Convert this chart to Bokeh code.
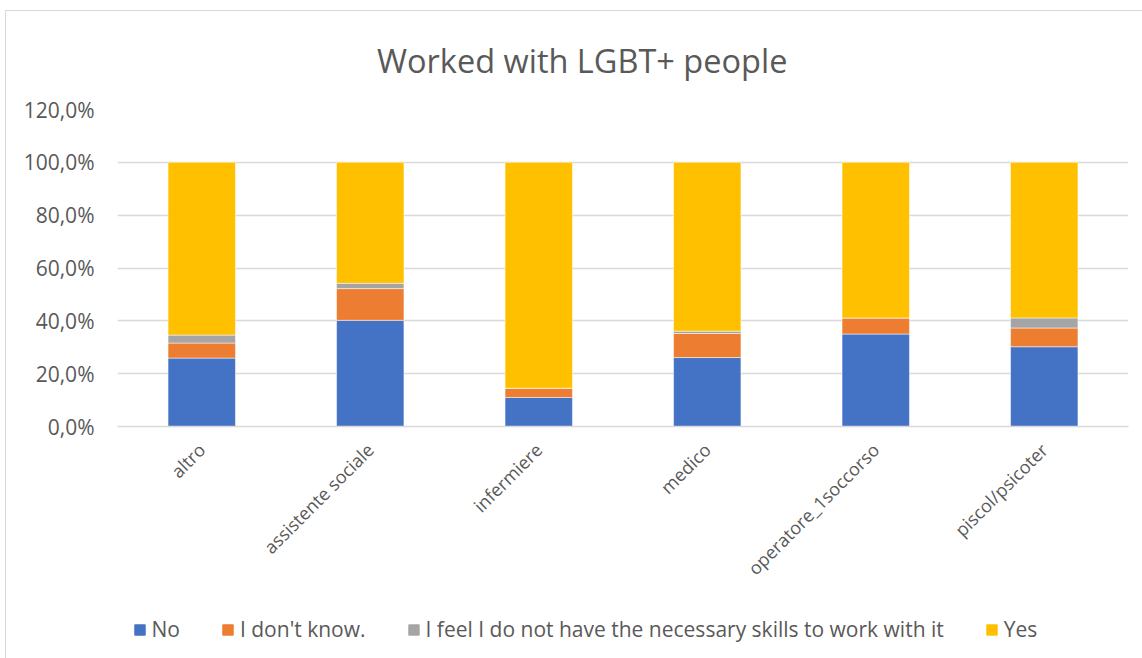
from bokeh.plotting import figure
from bokeh.layouts import column
from bokeh.models import (ColumnDataSource, FixedTicker, Legend, LegendItem,
                          Title, FactorRange, Range1d)
from bokeh.embed import file_html
from bokeh.resources import INLINE

# Professions (x categories)
professions = ["altro", "assistente sociale", "infermiere", "medico",
               "operatore_1soccorso", "piscol/psicoter"]

# Share of answers per profession, in percent
no_vals = [25.9, 40.2, 11.0, 26.1, 35.0, 30.2]
dont_know_vals = [5.7, 12.0, 3.5, 9.1, 6.1, 7.1]
no_skills_vals = [3.0, 2.0, 0.0, 0.9, 0.0, 3.8]
yes_vals = [65.4, 45.8, 85.5, 63.9, 58.9, 58.9]

series_keys = ["no", "dont_know", "no_skills", "yes"]
series_labels = ["No", "I don't know.",
                 "I feel I do not have the necessary skills to work with it", "Yes"]
series_colors = ["#4472C4", "#ED7D31", "#A5A5A5", "#FFC000"]

y_ticks = [0, 20, 40, 60, 80, 100, 120]
y_tick_labels = ["0,0%", "20,0%", "40,0%", "60,0%", "80,0%", "100,0%", "120,0%"]

title_text = "Worked with LGBT+ people"

TEXT = "#595959"
GRID = "#D9D9D9"
FONT = "Open Sans"

source = ColumnDataSource(dict(
    prof=professions,
    no=no_vals,
    dont_know=dont_know_vals,
    no_skills=no_skills_vals,
    yes=yes_vals,
))

# main chart
chart = figure(
    width=1136, height=594,
    x_range=FactorRange(*professions, range_padding=0),
    y_range=Range1d(0, 120),
    output_backend="svg", toolbar_location=None,
    min_border_left=111, min_border_right=14,
    min_border_top=98, min_border_bottom=179,
)
chart.outline_line_color = None
chart.background_fill_color = "white"
chart.border_fill_color = "white"

renderers = chart.vbar_stack(
    series_keys, x="prof", width=0.4, source=source,
    color=series_colors, line_color="white", line_width=0.5,
)

chart.yaxis.ticker = FixedTicker(ticks=y_ticks)
chart.yaxis.major_label_overrides = {t: s for t, s in zip(y_ticks, y_tick_labels)}
chart.yaxis.axis_line_color = None
chart.yaxis.major_tick_line_color = None
chart.yaxis.minor_tick_line_color = None
chart.yaxis.major_label_standoff = 17
chart.yaxis.major_label_text_font = FONT
chart.yaxis.major_label_text_font_size = "21px"
chart.yaxis.major_label_text_color = TEXT

chart.xaxis.axis_line_color = GRID
chart.xaxis.axis_line_width = 1.3
chart.xaxis.major_tick_line_color = None
chart.xaxis.minor_tick_line_color = None
chart.xaxis.major_label_orientation = 0.7854
chart.xaxis.major_label_standoff = 14
chart.xaxis.major_label_text_font = FONT
chart.xaxis.major_label_text_font_size = "18px"
chart.xaxis.major_label_text_color = TEXT

chart.xgrid.grid_line_color = None
chart.ygrid.grid_line_color = GRID
chart.ygrid.grid_line_width = 1.3

chart.title = Title(
    text=title_text, align="left", offset=259.5,
    vertical_align="top", standoff=50,
    text_font=FONT, text_font_size="32.5px", text_font_style="normal",
    text_color=TEXT,
)

# legend strip under the chart; its swatch glyphs sit outside the visible range
key = figure(
    width=1136, height=60,
    x_range=Range1d(0, 1), y_range=Range1d(0, 1),
    x_axis_type=None, y_axis_type=None,
    output_backend="svg", toolbar_location=None,
    min_border=0,
)
key.outline_line_color = None
key.xgrid.grid_line_color = None
key.ygrid.grid_line_color = None
key_renderers = [
    key.vbar(x=[-5], top=[-5], bottom=[-6], width=0.1, color=c) for c in series_colors
]
legend = Legend(
    items=[LegendItem(label=lab, renderers=[r]) for lab, r in zip(series_labels, key_renderers)],
    orientation="horizontal",
    location=(15.5, 22),
    glyph_width=13, glyph_height=13,
    label_standoff=6, spacing=41,
    padding=0, margin=0,
    label_text_font=FONT, label_text_font_size="21px", label_text_color=TEXT,
    border_line_color=None, background_fill_alpha=0,
)
key.add_layout(legend, "center")

p = column(
    chart, key, spacing=0,
    styles={"margin-left": "5px", "margin-top": "10px",
            "border-left": "1px solid #D9D9D9",
            "border-top": "1px solid #D9D9D9"},
)

open("out.html", "w").write(file_html(p, INLINE))
